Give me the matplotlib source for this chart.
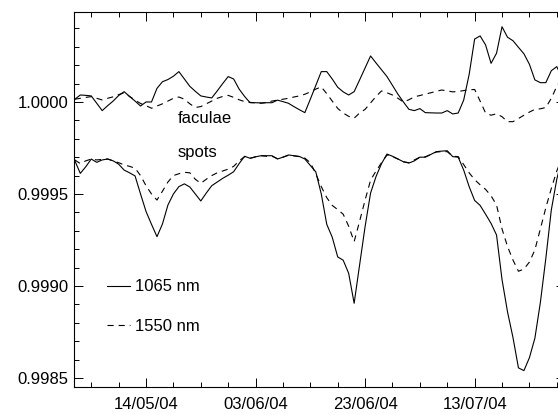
import numpy as np
import pandas as pd
import matplotlib
matplotlib.use("Agg")
from matplotlib import pyplot as plt
import matplotlib.dates as mdates

plt.rcParams['font.family'] = ['Liberation Sans', 'DejaVu Sans']

# Data: relative irradiance deviation from 1, in units of 1e-4, daily from 01/05/04
start_date = "2004-05-01"
fac_1065 = [0.15, 0.38, 0.36, 0.33, -0.07, -0.47, -0.2, 0.05, 0.35, 0.56,
            0.3, 0.05, -0.22, 0.0, 0.0, 0.74, 1.1, 1.22, 1.4, 1.65,
            1.25, 0.85, 0.58, 0.33, 0.27, 0.22, 0.6, 1.0, 1.38, 1.25,
            0.7, 0.3, -0.04, -0.04, -0.05, -0.04, -0.04, 0.1, 0.02, -0.07,
            -0.25, -0.42, -0.58, 0.15, 0.9, 1.65, 1.65, 1.25, 0.8, 0.55,
            0.38, 0.56, 1.2, 1.85, 2.5, 2.12, 1.75, 1.38, 0.9, 0.42,
            0.0, -0.4, -0.47, -0.36, -0.58, -0.59, -0.6, -0.6, -0.47, -0.65,
            -0.6, 0.1, 1.5, 3.42, 3.59, 3.1, 2.1, 2.65, 4.09, 3.52,
            3.33, 2.97, 2.62, 2.05, 1.2, 1.05, 1.05, 1.7, 1.92, 1.3]
fac_1550 = [0.15, 0.2, 0.25, 0.29, 0.2, 0.11, 0.2, 0.28, 0.4, 0.5,
            0.3, 0.1, -0.08, -0.2, -0.34, -0.22, -0.1, 0.05, 0.2, 0.27,
            0.15, -0.1, -0.3, -0.25, -0.1, 0.05, 0.2, 0.3, 0.36, 0.25,
            0.12, 0.02, -0.02, -0.05, -0.07, -0.03, 0.05, 0.1, 0.15, 0.2,
            0.27, 0.33, 0.42, 0.55, 0.7, 0.82, 0.45, 0.05, -0.35, -0.6,
            -0.78, -0.88, -0.6, -0.4, -0.05, 0.3, 0.6, 0.5, 0.38, 0.2,
            0.0, 0.12, 0.28, 0.35, 0.43, 0.5, 0.58, 0.65, 0.6, 0.55,
            0.57, 0.62, 0.66, 0.68, 0.05, -0.6, -0.72, -0.64, -0.8, -1.07,
            -1.07, -0.9, -0.72, -0.55, -0.4, -0.37, -0.3, 0.2, 0.85, 1.3]
spots_1065 = [-3.19, -3.88, -3.52, -3.1, -3.28, -3.15, -3.1, -3.2, -3.38, -3.7,
              -3.85, -4.02, -5.0, -5.95, -6.65, -7.32, -6.63, -5.6, -5.0, -4.6,
              -4.45, -4.62, -5.0, -5.38, -4.95, -4.55, -4.35, -4.15, -3.98, -3.79,
              -3.35, -2.95, -3.06, -2.98, -2.92, -2.92, -2.92, -3.1, -3.0, -2.88,
              -2.92, -2.96, -3.1, -3.45, -3.8, -5.0, -6.65, -7.35, -8.42, -8.6,
              -9.31, -10.94, -8.85, -6.77, -4.95, -4.05, -3.35, -2.83, -2.95, -3.1,
              -3.25, -3.32, -3.2, -3.0, -3.0, -2.85, -2.7, -2.67, -2.65, -2.97,
              -3.0, -3.7, -4.6, -5.35, -5.62, -6.1, -6.6, -7.23, -9.65, -11.4,
              -12.8, -14.45, -14.6, -13.9, -12.84, -10.9, -8.5, -5.87, -4.2, -3.0]
spots_1550 = [-3.15, -3.35, -3.2, -3.1, -3.15, -3.12, -3.1, -3.2, -3.3, -3.42,
              -3.5, -3.6, -4.0, -4.55, -5.0, -5.33, -4.85, -4.35, -4.0, -3.9,
              -3.82, -3.85, -4.2, -4.42, -4.2, -4.0, -3.85, -3.75, -3.65, -3.5,
              -3.2, -2.97, -3.06, -2.98, -2.92, -2.95, -2.95, -3.08, -3.0, -2.9,
              -2.93, -2.97, -3.05, -3.3, -3.9, -4.6, -5.2, -5.62, -5.85, -6.1,
              -6.75, -7.59, -6.48, -5.33, -4.25, -3.75, -3.3, -2.88, -2.97, -3.1,
              -3.25, -3.3, -3.15, -3.0, -2.98, -2.85, -2.72, -2.7, -2.7, -2.95,
              -2.97, -3.4, -3.85, -4.22, -4.5, -4.75, -5.1, -5.6, -6.9, -7.85,
              -8.59, -9.2, -9.08, -8.7, -8.04, -6.9, -5.75, -4.7, -3.75, -3.0]

dates = pd.date_range(start_date, periods=len(fac_1065), freq="D")
to_ratio = lambda v: 1.0 + np.array(v) * 1e-4

fig = plt.figure(figsize=(5.58, 4.15), dpi=100)
ax = fig.add_axes([74 / 558, 28 / 415, 491 / 558, 375 / 415])

dash = (0, (5.5, 4.5))
ax.plot(dates, to_ratio(fac_1065), color="black", lw=0.8, label="1065 nm")
ax.plot(dates, to_ratio(fac_1550), color="black", lw=0.8, ls=dash, label="1550 nm")
ax.plot(dates, to_ratio(spots_1065), color="black", lw=0.8)
ax.plot(dates, to_ratio(spots_1550), color="black", lw=0.8, ls=dash)

t0 = pd.Timestamp(start_date)
ax.text(t0 + pd.Timedelta(days=18.85), 1 - 1.14e-4, "faculae", fontsize=12, va="baseline")
ax.text(t0 + pd.Timedelta(days=18.85), 1 - 2.99e-4, "spots", fontsize=12, va="baseline")

ax.legend(loc="upper left", bbox_to_anchor=(0.067, 0.287), borderpad=0, borderaxespad=0,
          handlelength=1.4, handletextpad=0.3, labelspacing=1.45, frameon=False, fontsize=12)

# Ticks first, then limits (set_ticks can widen the view)
ax.set_xticks(pd.date_range("2004-05-14", periods=4, freq="20D"))
ax.set_xticks(pd.date_range("2004-04-29", "2004-08-05", freq="5D"), minor=True)
ax.xaxis.set_major_formatter(mdates.DateFormatter("%d/%m/%y"))
ax.set_yticks([0.9985, 0.9990, 0.9995, 1.0000])
ax.set_yticks(np.arange(0.9985, 1.00049, 0.0001), minor=True)
ax.yaxis.set_major_formatter(plt.FormatStrFormatter("%.4f"))
ax.set_xlim(t0 - pd.Timedelta(days=0.15), t0 + pd.Timedelta(days=89.5))
ax.set_ylim(0.998451, 1.000489)

ax.tick_params(which="both", direction="in", top=True, right=True, width=0.7, labelsize=12)
ax.tick_params(which="major", length=6.7)
ax.tick_params(which="minor", length=3.6)
ax.tick_params(axis="y", pad=4.3)
ax.tick_params(axis="x", pad=7)
for s in ax.spines.values():
    s.set_linewidth(0.8)

fig.savefig("out.png", dpi=100)
